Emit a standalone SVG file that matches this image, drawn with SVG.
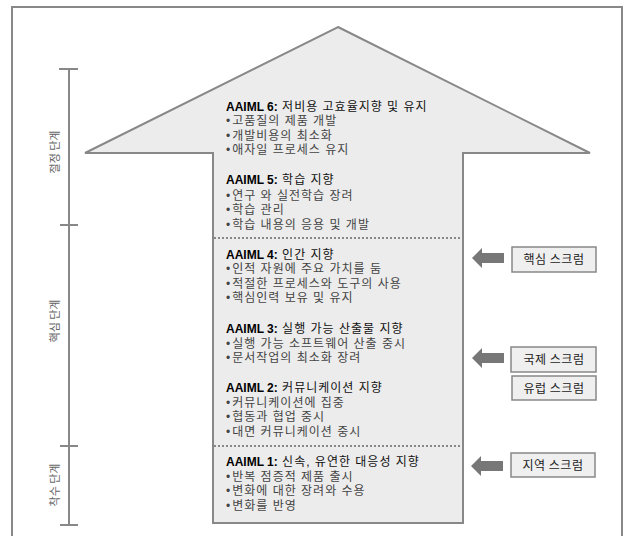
<svg xmlns="http://www.w3.org/2000/svg" width="624" height="536" viewBox="0 0 624 536">
<defs>
<style>
.t{font-family:"Liberation Sans","Noto Sans CJK KR",sans-serif;font-size:12px;fill:#111;letter-spacing:1px}
.h{font-weight:bold;fill:#000;letter-spacing:0}
.b{font-family:"Liberation Sans","Noto Sans CJK KR",sans-serif;font-size:12px;fill:#444;letter-spacing:1px}
.box{fill:#efefef;stroke:#888;stroke-width:1.5}
.bl{font-family:"Noto Sans CJK KR",sans-serif;font-size:12px;fill:#222;text-anchor:middle;letter-spacing:0.5px}
.vl{font-family:"Noto Sans CJK KR",sans-serif;font-size:11px;fill:#666;text-anchor:middle}
.ax{stroke:#888;stroke-width:2;fill:none}
.pt{fill:#777}
.dot{stroke:#888;stroke-width:2;stroke-dasharray:2 2;fill:none}
</style>
</defs>
<rect x="12" y="7" width="610" height="540" fill="#fff" stroke="#888" stroke-width="2"/>
<g id="scale">
<line class="ax" x1="69" y1="69" x2="69" y2="525"/>
<line class="ax" x1="59" y1="69" x2="78" y2="69"/>
<line class="ax" x1="60" y1="225" x2="78" y2="225"/>
<line class="ax" x1="60" y1="446" x2="78" y2="446"/>
<line class="ax" x1="60" y1="525" x2="78" y2="525"/>
<text class="vl" transform="translate(59 152) rotate(-90)">절정 단계</text>
<text class="vl" transform="translate(59 321) rotate(-90)">핵심 단계</text>
<text class="vl" transform="translate(59 485) rotate(-90)">착수 단계</text>
</g>
<g id="arrow">
<polygon points="338,27 590,153 463,153 463,523 213,523 213,153 85,153" fill="#ececec" stroke="#888" stroke-width="2"/>
<line class="dot" x1="214" y1="238" x2="462" y2="238"/>
<line class="dot" x1="214" y1="446" x2="462" y2="446"/>
</g>
<g id="aaiml6">
<text class="t" x="226" y="111"><tspan class="h">AAIML 6:</tspan> 저비용 고효율지향 및 유지</text>
<text class="b" x="226" y="125">•<tspan dx="1">고품질의 제품 개발</tspan></text>
<text class="b" x="226" y="140">•<tspan dx="1">개발비용의 최소화</tspan></text>
<text class="b" x="226" y="154">•<tspan dx="1">애자일 프로세스 유지</tspan></text>
</g>
<g id="aaiml5">
<text class="t" x="226" y="184"><tspan class="h">AAIML 5:</tspan> 학습 지향</text>
<text class="b" x="226" y="200">•<tspan dx="1">연구 와 실전학습 장려</tspan></text>
<text class="b" x="226" y="214">•<tspan dx="1">학습 관리</tspan></text>
<text class="b" x="226" y="229">•<tspan dx="1">학습 내용의 응용 및 개발</tspan></text>
</g>
<g id="aaiml4">
<text class="t" x="226" y="259"><tspan class="h">AAIML 4:</tspan> 인간 지향</text>
<text class="b" x="226" y="273">•<tspan dx="1">인적 자원에 주요 가치를 둠</tspan></text>
<text class="b" x="226" y="288">•<tspan dx="1">적절한 프로세스와 도구의 사용</tspan></text>
<text class="b" x="226" y="302">•<tspan dx="1">핵심인력 보유 및 유지</tspan></text>
</g>
<g id="aaiml3">
<text class="t" x="226" y="333"><tspan class="h">AAIML 3:</tspan> 실행 가능 산출물 지향</text>
<text class="b" x="226" y="348">•<tspan dx="1">실행 가능 소프트웨어 산출 중시</tspan></text>
<text class="b" x="226" y="362">•<tspan dx="1">문서작업의 최소화 장려</tspan></text>
</g>
<g id="aaiml2">
<text class="t" x="226" y="392"><tspan class="h">AAIML 2:</tspan> 커뮤니케이션 지향</text>
<text class="b" x="226" y="407">•<tspan dx="1">커뮤니케이션에 집중</tspan></text>
<text class="b" x="226" y="421">•<tspan dx="1">협동과 협업 중시</tspan></text>
<text class="b" x="226" y="436">•<tspan dx="1">대면 커뮤니케이션 중시</tspan></text>
</g>
<g id="aaiml1">
<text class="t" x="226" y="466"><tspan class="h">AAIML 1:</tspan> 신속, 유연한 대응성 지향</text>
<text class="b" x="226" y="481">•<tspan dx="1">반복 점증적 제품 출시</tspan></text>
<text class="b" x="226" y="495">•<tspan dx="1">변화에 대한 장려와 수용</tspan></text>
<text class="b" x="226" y="510">•<tspan dx="1">변화를 반영</tspan></text>
</g>
<g id="connectors">
<polygon class="pt" points="472,258 482,248 482,253 504,253 504,263 482,263 482,268"/>
<polygon class="pt" points="472,358 482,348 482,353 504,353 504,363 482,363 482,368"/>
<polygon class="pt" points="471,466 481,456 481,461 503,461 503,471 481,471 481,476"/>
</g>
<g id="core-scrum">
<rect class="box" x="512" y="247" width="84" height="25"/>
<text class="bl" x="554" y="264">핵심 스크럼</text>
</g>
<g id="intl-scrum">
<rect class="box" x="511" y="347" width="85" height="25"/>
<text class="bl" x="554" y="364">국제 스크럼</text>
</g>
<g id="eu-scrum">
<rect class="box" x="512" y="376" width="84" height="24"/>
<text class="bl" x="554" y="393">유럽 스크럼</text>
</g>
<g id="local-scrum">
<rect class="box" x="511" y="453" width="84" height="24"/>
<text class="bl" x="553" y="470">지역 스크럼</text>
</g>
</svg>
